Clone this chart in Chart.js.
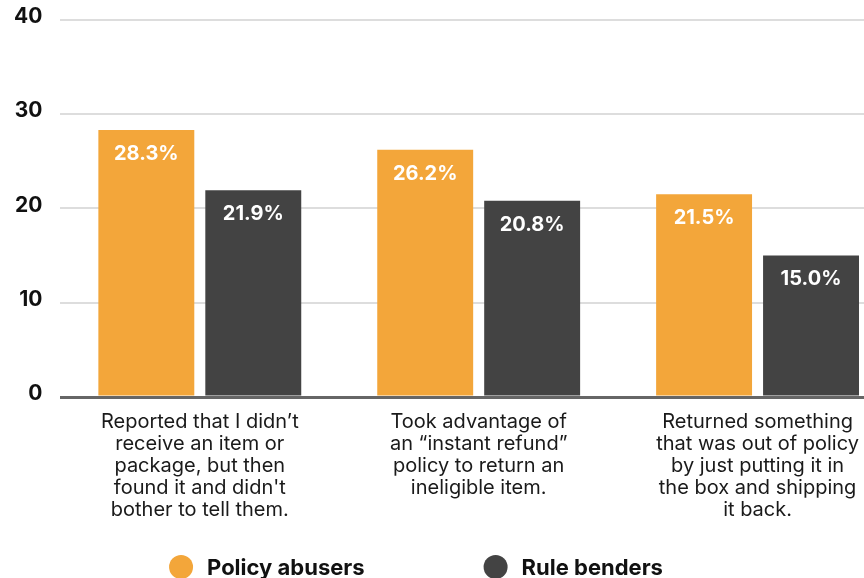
<!DOCTYPE html>
<html>
<head>
<meta charset="utf-8">
<script src="https://cdn.jsdelivr.net/npm/chart.js@4.4.1/dist/chart.umd.min.js"></script>
<style>
    html, body { margin: 0; padding: 0; background: #fff; overflow: hidden; }
    #wrap { position: absolute; left: 0; top: -11px; width: 900px; height: 589px; }
</style>
</head>
<body>
<div id="wrap"><canvas id="grafica"></canvas></div>
<script>
// Categorías (etiquetas del eje x, en varias líneas)
var categorias = [
    ['Reported that I didn’t', 'receive an item or', 'package, but then', "found it and didn't", 'bother to tell them.'],
    ['Took advantage of', 'an “instant refund”', 'policy to return an', 'ineligible item.'],
    ['Returned something', 'that was out of policy', 'by just putting it in', 'the box and shipping', 'it back.']
];
var nombresSeries = ['Policy abusers', 'Rule benders'];
var valoresAbusers = [28.3, 26.2, 21.5];
var valoresBenders = [21.9, 20.8, 15.0];
var ticksY = [0, 10, 20, 30, 40];

var colorNaranja = '#F3A63A';
var colorGris = '#434343';
var fuente = 'Inter, sans-serif';

// Escribe el porcentaje dentro de cada barra, cerca de su parte superior.
var etiquetasBarras = {
    id: 'etiquetasBarras',
    afterDatasetsDraw: function (chart) {
        var ctx = chart.ctx;
        ctx.save();
        ctx.fillStyle = '#fff';
        ctx.font = 'bold 20px ' + fuente;
        ctx.textAlign = 'center';
        ctx.textBaseline = 'middle';
        chart.data.datasets.forEach(function (ds, i) {
            chart.getDatasetMeta(i).data.forEach(function (bar, j) {
                ctx.fillText(ds.data[j].toFixed(1) + '%', bar.x, bar.y + 24);
            });
        });
        ctx.restore();
    }
};

// Leyenda propia con círculos, centrada bajo la gráfica.
var leyenda = {
    id: 'leyenda',
    afterDraw: function (chart, args, opts) {
        var ctx = chart.ctx;
        var radio = 12, separacion = 14, espacio = 119;
        ctx.save();
        ctx.font = 'bold 22px ' + fuente;
        ctx.textBaseline = 'middle';
        var anchos = chart.data.datasets.map(function (ds) {
            return radio * 2 + separacion + ctx.measureText(ds.label).width;
        });
        var total = anchos.reduce(function (a, b) { return a + b; }, 0) + espacio * (anchos.length - 1);
        var x = opts.centro - total / 2;
        var y = chart.height - 11;
        chart.data.datasets.forEach(function (ds, i) {
            ctx.fillStyle = ds.backgroundColor;
            ctx.beginPath();
            ctx.arc(x + radio, y, radio, 0, Math.PI * 2);
            ctx.fill();
            ctx.fillStyle = '#111';
            ctx.fillText(ds.label, x + radio * 2 + separacion, y + 1);
            x += anchos[i] + espacio;
        });
        ctx.restore();
    }
};

var chart = new Chart(document.getElementById('grafica').getContext('2d'), {
    type: 'bar',
    data: {
        labels: categorias,
        datasets: [
            { label: nombresSeries[0], data: valoresAbusers, backgroundColor: colorNaranja },
            { label: nombresSeries[1], data: valoresBenders, backgroundColor: colorGris }
        ]
    },
    plugins: [etiquetasBarras, leyenda],
    options: {
        responsive: true,
        maintainAspectRatio: false,
        animation: false,
        categoryPercentage: 0.767,
        barPercentage: 0.897,
        layout: { padding: { left: -4, top: 0, right: 3, bottom: 51 } },
        plugins: {
            legend: { display: false },
            tooltip: { enabled: false },
            leyenda: { centro: 416 }
        },
        scales: {
            x: {
                grid: { display: false },
                border: { display: false },
                ticks: {
                    color: '#1a1a1a',
                    font: { family: fuente, size: 20, lineHeight: 1.1 },
                    padding: 6,
                    maxRotation: 0,
                    autoSkip: false
                }
            },
            y: {
                min: ticksY[0],
                max: ticksY[ticksY.length - 1],
                afterBuildTicks: function (axis) {
                    axis.ticks = ticksY.map(function (v) { return { value: v }; });
                },
                border: { display: false },
                grid: {
                    drawTicks: false,
                    color: function (c) { return c.tick.value === 0 ? '#666' : '#ddd'; },
                    lineWidth: function (c) { return c.tick.value === 0 ? 3 : 2; }
                },
                ticks: {
                    color: '#111',
                    font: { family: fuente, size: 21, weight: 'bold' },
                    padding: 18,
                    labelOffset: -3
                }
            }
        }
    }
});
</script>
</body>
</html>
